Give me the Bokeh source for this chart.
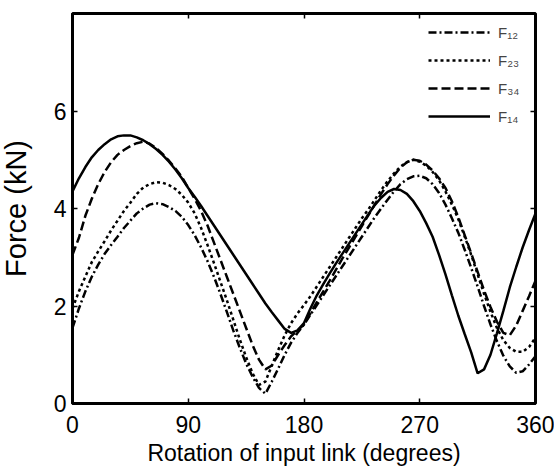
from bokeh.plotting import figure
from bokeh.models import FixedTicker, LinearAxis, Legend, LegendItem, Range1d
from bokeh.embed import file_html
from bokeh.resources import INLINE

# ---- data ----
angle = list(range(0, 361, 5))

f12 = [1.55, 1.95, 2.30, 2.60, 2.85, 3.07, 3.25, 3.42, 3.60, 3.75, 3.90, 4.00, 4.08, 4.11, 4.09,
       4.03, 3.95, 3.83, 3.66, 3.45, 3.20, 2.92, 2.60, 2.25, 1.88, 1.50, 1.15, 0.82, 0.55, 0.32,
       0.20, 0.45, 0.72, 1.00, 1.25, 1.45, 1.62, 1.82, 2.02, 2.22, 2.42, 2.62, 2.82, 3.02, 3.22,
       3.42, 3.62, 3.82, 4.00, 4.18, 4.35, 4.50, 4.60, 4.66, 4.67, 4.62, 4.50, 4.32, 4.08, 3.80,
       3.50, 3.15, 2.78, 2.40, 2.00, 1.62, 1.28, 0.98, 0.76, 0.63, 0.66, 0.80, 0.97]

f23 = [1.95, 2.30, 2.60, 2.90, 3.12, 3.33, 3.55, 3.75, 3.95, 4.12, 4.30, 4.43, 4.50, 4.54, 4.53,
       4.48, 4.40, 4.28, 4.12, 3.90, 3.60, 3.25, 2.88, 2.50, 2.12, 1.72, 1.32, 0.95, 0.62, 0.38,
       0.45, 0.78, 1.10, 1.40, 1.65, 1.85, 2.02, 2.20, 2.40, 2.60, 2.80, 3.00, 3.20, 3.40, 3.60,
       3.80, 3.98, 4.18, 4.38, 4.56, 4.72, 4.86, 4.95, 5.00, 4.96, 4.88, 4.75, 4.58, 4.35, 4.08,
       3.78, 3.42, 3.05, 2.65, 2.25, 1.88, 1.55, 1.30, 1.14, 1.06, 1.06, 1.16, 1.35]

f34 = [3.05, 3.40, 3.85, 4.20, 4.50, 4.75, 4.95, 5.10, 5.20, 5.28, 5.34, 5.37, 5.33, 5.24, 5.12,
       4.98, 4.82, 4.65, 4.42, 4.20, 3.95, 3.65, 3.30, 2.95, 2.60, 2.25, 1.90, 1.55, 1.20, 0.90,
       0.70, 0.78, 1.00, 1.20, 1.38, 1.50, 1.62, 1.85, 2.08, 2.30, 2.52, 2.75, 2.98, 3.20, 3.42,
       3.64, 3.86, 4.08, 4.30, 4.50, 4.68, 4.84, 4.95, 5.00, 4.98, 4.90, 4.78, 4.62, 4.42, 4.15,
       3.82, 3.45, 3.08, 2.70, 2.32, 1.98, 1.68, 1.45, 1.40, 1.60, 1.90, 2.20, 2.52]

f14 = [4.35, 4.62, 4.85, 5.05, 5.20, 5.32, 5.42, 5.48, 5.50, 5.50, 5.46, 5.40, 5.32, 5.22, 5.10,
       4.96, 4.80, 4.62, 4.42, 4.24, 4.05, 3.85, 3.65, 3.45, 3.25, 3.05, 2.85, 2.65, 2.45, 2.25,
       2.05, 1.87, 1.70, 1.53, 1.45, 1.50, 1.65, 1.95, 2.22, 2.45, 2.67, 2.88, 3.08, 3.28, 3.48,
       3.68, 3.88, 4.07, 4.22, 4.34, 4.40, 4.38, 4.30, 4.15, 3.95, 3.70, 3.42, 3.05, 2.65, 2.22,
       1.80, 1.42, 1.05, 0.62, 0.70, 1.00, 1.44, 1.90, 2.38, 2.80, 3.20, 3.56, 3.90]

series_names = ["F\u2081\u2082", "F\u2082\u2083", "F\u2083\u2084", "F\u2081\u2084"]
x_ticks = [0, 90, 180, 270, 360]
y_ticks = [0, 2, 4, 6]
x_label = "Rotation of input link (degrees)"
y_label = "Force (kN)"

FONT = "Liberation Sans"

p = figure(width=561, height=468, x_range=Range1d(0, 360), y_range=Range1d(0, 8),
           output_backend="svg", toolbar_location=None,
           min_border_left=79, min_border_right=19, min_border_top=13, min_border_bottom=65)
p.margin = (0, 0, 0, -7)
p.grid.visible = False
p.outline_line_color = "black"
p.outline_line_width = 3
p.background_fill_color = "white"
p.border_fill_color = "white"

styles = [("8 3 2 3", f12), ("3 3", f23), ("9 4", f34), ("solid", f14)]
renderers = []
for dash, vals in styles:
    r = p.line(angle, vals, line_color="black", line_width=2.5, line_dash=dash)
    renderers.append(r)

for ax in (p.xaxis[0], p.yaxis[0]):
    ax.major_tick_in = 5
    ax.major_tick_out = 0
    ax.major_tick_line_width = 1.5
    ax.minor_tick_line_color = None
    ax.axis_line_width = 3
    ax.major_label_text_font = FONT
    ax.major_label_text_font_size = "23px"
    ax.major_label_text_color = "black"
    ax.axis_label_text_font = FONT
    ax.axis_label_text_font_style = "normal"
    ax.axis_label_text_color = "black"

p.xaxis.ticker = FixedTicker(ticks=x_ticks)
p.yaxis.ticker = FixedTicker(ticks=y_ticks)
p.xaxis.major_label_standoff = 12
p.yaxis.major_label_standoff = 6
p.xaxis.axis_label = x_label
p.xaxis.axis_label_text_font_size = "23px"
p.xaxis.axis_label_standoff = 4
p.yaxis.axis_label = y_label
p.yaxis.axis_label_text_font_size = "29px"
p.yaxis.axis_label_standoff = 19

top = LinearAxis(ticker=FixedTicker(ticks=x_ticks), major_label_text_font_size="1px",
                 major_label_text_color=None,
                 major_tick_in=5, major_tick_out=0, major_tick_line_width=1.5,
                 minor_tick_line_color=None, axis_line_color=None, major_label_standoff=0)
right = LinearAxis(ticker=FixedTicker(ticks=y_ticks), major_label_text_font_size="1px",
                   major_label_text_color=None,
                   major_tick_in=5, major_tick_out=0, major_tick_line_width=1.5,
                   minor_tick_line_color=None, axis_line_color=None, major_label_standoff=0)
p.add_layout(top, "above")
p.add_layout(right, "right")

legend = Legend(items=[LegendItem(label=n, renderers=[r]) for n, r in zip(series_names, renderers)],
                location="top_right", glyph_width=62, glyph_height=20, label_height=20,
                spacing=8, padding=4, margin=5, label_standoff=8, label_width=28,
                border_line_alpha=0, background_fill_alpha=1,
                label_text_font=FONT, label_text_font_size="15px")
p.add_layout(legend)

open("out.html", "w").write(file_html(p, INLINE))
